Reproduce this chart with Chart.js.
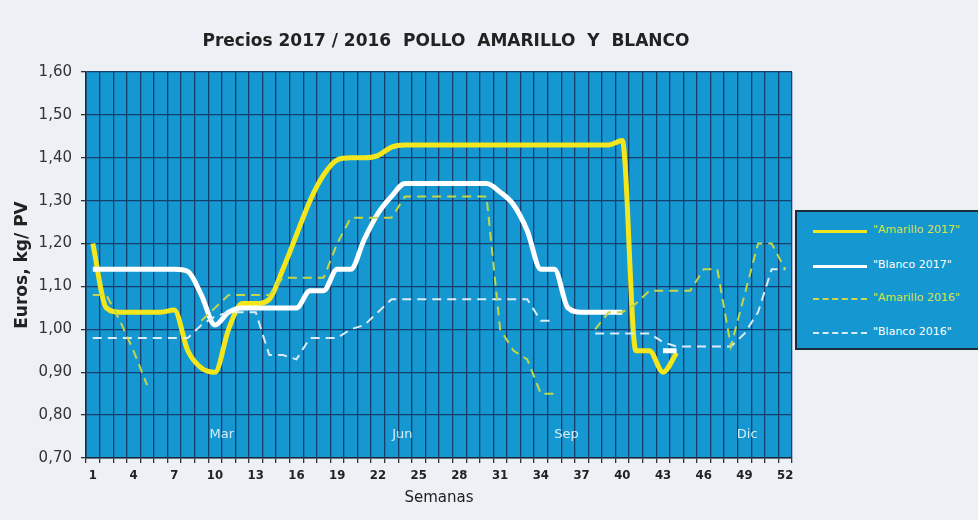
<!DOCTYPE html>
<html lang="es">
<head>
    <meta charset="UTF-8">
    <script src="https://cdn.jsdelivr.net/npm/chart.js"></script>
    <title>Precios pollo amarillo y blanco</title>
    <style>
        body { margin: 0; background: #edf0f4; }
        .contenedor { position: relative; width: 978px; height: 520px; overflow: hidden; }
        #grafico_precios { position: absolute; left: 0; top: 0; }
        .leyenda {
            position: absolute; left: 795px; top: 210px; width: 200px; height: 136px;
            background: #1597d1; border: 2px solid #1b2a3c;
            font-family: "DejaVu Sans", Verdana, sans-serif; font-size: 11px;
        }
        .item { position: absolute; left: 16px; height: 14px; }
        .item .linea { position: absolute; left: 0; top: 6px; width: 54px; }
        .item span { position: absolute; left: 60px; top: -1px; white-space: nowrap; }
    </style>
</head>
<body>
<div class="contenedor">
    <canvas id="grafico_precios" width="978" height="520"></canvas>
    <div class="leyenda">
        <div class="item" style="top:12px"><div class="linea" style="border-top:3px solid #f3e61c"></div><span style="color:#d9e24a">"Amarillo 2017"</span></div>
        <div class="item" style="top:47px"><div class="linea" style="border-top:3px solid #ffffff"></div><span style="color:#ffffff">"Blanco 2017"</span></div>
        <div class="item" style="top:80px"><div class="linea" style="border-top:2px dashed #c9d84a"></div><span style="color:#d9e24a">"Amarillo 2016"</span></div>
        <div class="item" style="top:114px"><div class="linea" style="border-top:2px dashed #dcecf5"></div><span style="color:#ffffff">"Blanco 2016"</span></div>
    </div>
</div>

<script>

    // semanas del año
    const semanas = ['1','2','3','4','5','6','7','8','9','10','11','12','13','14','15','16','17','18','19','20',
        '21','22','23','24','25','26','27','28','29','30','31','32','33','34','35','36','37','38','39','40',
        '41','42','43','44','45','46','47','48','49','50','51','52'];

    // precios en euros/kg PV, null = sin dato
    const amarillo2017 = [1.20, 1.05, 1.04, 1.04, 1.04, 1.04, 1.045, 0.95, 0.91, 0.90,
        1.00, 1.06, 1.06, 1.07, 1.14, 1.22, 1.30, 1.36, 1.395, 1.40,
        1.40, 1.405, 1.425, 1.43, 1.43, 1.43, 1.43, 1.43, 1.43, 1.43,
        1.43, 1.43, 1.43, 1.43, 1.43, 1.43, 1.43, 1.43, 1.43, 1.44,
        0.95, 0.95, 0.90, 0.945, null, null, null, null, null, null, null, null];

    const blanco2017 = [1.14, 1.14, 1.14, 1.14, 1.14, 1.14, 1.14, 1.135, 1.08, 1.01,
        1.04, 1.05, 1.05, 1.05, 1.05, 1.05, 1.09, 1.09, 1.14, 1.14,
        1.21, 1.27, 1.31, 1.34, 1.34, 1.34, 1.34, 1.34, 1.34, 1.34,
        1.32, 1.29, 1.23, 1.14, 1.14, 1.05, 1.04, 1.04, 1.04, 1.04,
        null, null, 0.95, 0.95, null, null, null, null, null, null, null, null];

    const amarillo2016 = [1.08, 1.08, 1.02, 0.95, 0.87, null, null, null, 1.02, 1.05,
        1.08, 1.08, 1.08, 1.08, 1.12, 1.12, 1.12, 1.12, 1.20, 1.26,
        1.26, 1.26, 1.26, 1.31, 1.31, 1.31, 1.31, 1.31, 1.31, 1.31,
        1.00, 0.95, 0.93, 0.85, 0.85, null, null, 1.00, 1.04, 1.04,
        1.06, 1.09, 1.09, 1.09, 1.09, 1.14, 1.14, 0.96, 1.08, 1.20, 1.20, 1.14];

    const blanco2016 = [0.98, 0.98, 0.98, 0.98, 0.98, 0.98, 0.98, 0.98, 1.01, 1.03,
        1.04, 1.04, 1.04, 0.94, 0.94, 0.93, 0.98, 0.98, 0.98, 1.00,
        1.01, 1.04, 1.07, 1.07, 1.07, 1.07, 1.07, 1.07, 1.07, 1.07,
        1.07, 1.07, 1.07, 1.02, 1.02, null, null, 0.99, 0.99, 0.99,
        0.99, 0.99, 0.97, 0.96, 0.96, 0.96, 0.96, 0.96, 0.99, 1.04, 1.14, 1.14];

    // etiquetas de meses dentro del gráfico (semana aproximada)
    const meses = ['Mar', 'Jun', 'Sep', 'Dic'];
    const semanaMes = [10.5, 23.8, 35.9, 49.2];
    const alturaMes = 0.755;

    const azulFondo = '#1597d1';
    const azulRejilla = '#173f6e';

    // fondo azul, título y meses
    const pluginFondo = {
        id: 'fondo',
        beforeDraw(chart) {
            const ctx = chart.ctx;
            const a = chart.chartArea;
            ctx.save();
            ctx.fillStyle = azulFondo;
            ctx.fillRect(a.left, a.top, a.right - a.left, a.bottom - a.top);
            ctx.fillStyle = '#222';
            ctx.font = 'bold 17px "DejaVu Sans", Verdana, sans-serif';
            ctx.textAlign = 'center';
            ctx.textBaseline = 'middle';
            ctx.fillText('Precios 2017 / 2016  POLLO  AMARILLO  Y  BLANCO', 446, 42);
            ctx.restore();
        },
        beforeDatasetsDraw(chart) {
            const ctx = chart.ctx;
            const x = chart.scales.x;
            const y = chart.scales.y;
            ctx.save();
            ctx.fillStyle = '#d6ebf6';
            ctx.font = '13px "DejaVu Sans", Verdana, sans-serif';
            ctx.textAlign = 'center';
            ctx.textBaseline = 'middle';
            meses.forEach((m, i) => {
                ctx.fillText(m, x.getPixelForValue(semanaMes[i] - 1), y.getPixelForValue(alturaMes));
            });
            ctx.restore();
        }
    };

    const graficoPrecios = document.getElementById('grafico_precios');

    new Chart(graficoPrecios, {
        type: 'line',
        data: {
            labels: semanas,
            datasets: [
                {
                    label: 'Amarillo 2016',
                    data: amarillo2016,
                    borderColor: '#c5d746',
                    borderWidth: 2,
                    borderDash: [9, 6],
                    tension: 0
                },
                {
                    label: 'Blanco 2016',
                    data: blanco2016,
                    borderColor: '#dcecf5',
                    borderWidth: 2,
                    borderDash: [9, 6],
                    tension: 0
                },
                {
                    label: 'Blanco 2017',
                    data: blanco2017,
                    borderColor: '#ffffff',
                    borderWidth: 5,
                    cubicInterpolationMode: 'monotone'
                },
                {
                    label: 'Amarillo 2017',
                    data: amarillo2017,
                    borderColor: '#f3e61c',
                    borderWidth: 5,
                    cubicInterpolationMode: 'monotone'
                }
            ]
        },
        options: {
            responsive: false,
            animation: false,
            spanGaps: false,
            elements: { point: { radius: 0 } },
            layout: { padding: { left: 0, right: 186, top: 72, bottom: 0 } },
            plugins: {
                legend: { display: false },
                tooltip: { enabled: false }
            },
            scales: {
                x: {
                    offset: true,
                    afterFit(scale) { scale.height = 62; },
                    grid: {
                        offset: true,
                        color: azulRejilla,
                        lineWidth: 1.3,
                        tickColor: '#333',
                        tickLength: 5
                    },
                    border: { color: '#1b2a3c', width: 1.5 },
                    ticks: {
                        autoSkip: false,
                        maxRotation: 0,
                        padding: 5,
                        color: '#222',
                        font: { family: '"DejaVu Sans Condensed", "Liberation Sans Narrow", sans-serif', size: 13, weight: 'bold' },
                        callback: (v, i) => (i % 3 === 0 ? semanas[i] : '')
                    },
                    title: {
                        display: true,
                        text: 'Semanas',
                        color: '#222',
                        font: { family: '"DejaVu Sans", Verdana, sans-serif', size: 15 },
                        padding: { top: 0, bottom: 13 }
                    }
                },
                y: {
                    min: 0.7,
                    max: 1.6,
                    afterFit(scale) { scale.width = 86; },
                    grid: {
                        color: azulRejilla,
                        lineWidth: 1.3,
                        tickColor: '#333',
                        tickLength: 5
                    },
                    border: { color: '#1b2a3c', width: 1.5 },
                    ticks: {
                        stepSize: 0.1,
                        padding: 9,
                        color: '#333',
                        font: { family: '"DejaVu Sans", Verdana, sans-serif', size: 15 },
                        callback: v => v.toFixed(2).replace('.', ',')
                    },
                    title: {
                        display: true,
                        text: 'Euros, kg/ PV',
                        color: '#222',
                        font: { family: '"DejaVu Sans", Verdana, sans-serif', size: 17, weight: 'bold' },
                        padding: { top: 12, bottom: 0 }
                    }
                }
            }
        },
        plugins: [pluginFondo]
    });

</script>
</body>
</html>
